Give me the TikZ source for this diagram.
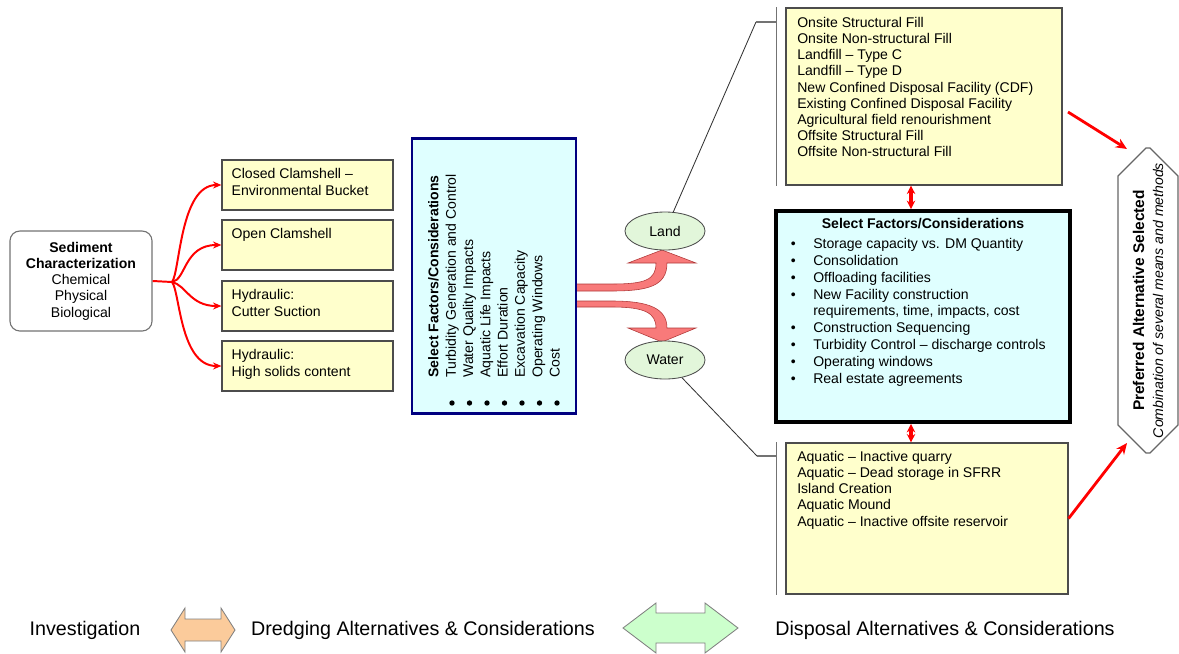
\documentclass[tikz,border=0pt]{standalone}
\usepackage{fontspec}
\setmainfont{Liberation Sans}
\usetikzlibrary{arrows.meta,positioning,shapes.geometric,shapes.misc}

\definecolor{lightyellow}{HTML}{FFFFCC}
\definecolor{lightcyan}{HTML}{DFFFFF}
\definecolor{palegreen}{HTML}{E2F6DA}
\definecolor{salmon}{HTML}{F87A7A}
\definecolor{darksalmon}{HTML}{B03838}
\definecolor{navyblue}{HTML}{000080}
\definecolor{peach}{HTML}{FBCB9B}
\definecolor{mint}{HTML}{CCFFCC}
\newcommand{\pxl}{0.025cm}
\newcommand{\itembul}{\llap{\textbullet\hspace{12.5pt}}}

\begin{document}
\begin{tikzpicture}[x=\pxl,y=-\pxl,>={Stealth[length=6pt,width=5pt]},font=\fontsize{10}{11.5}\selectfont]
\tikzstyle{sedbox}=[draw=black!55,line width=0.8pt,rounded corners=7pt,fill=white,align=center,minimum width=142*\pxl,minimum height=100*\pxl,font=\fontsize{10}{11.6}\selectfont]
\tikzstyle{ybox}=[draw=black!70,line width=0.8pt,fill=lightyellow,inner sep=0]
\tikzstyle{ytext}=[anchor=north west,align=left,inner sep=0]
\tikzstyle{oval}=[ellipse,draw=black!70,line width=0.6pt,fill=palegreen,minimum width=80*\pxl,minimum height=38*\pxl,inner sep=0]
\tikzstyle{redline}=[draw=red,line width=1.4pt]
\tikzstyle{redarrow}=[->,draw=red,line width=1.4pt]
\tikzstyle{bigredarrow}=[-{Stealth[length=8pt,width=7pt]},draw=red,line width=2pt]
\tikzstyle{fatarrow}=[fill=salmon,draw=darksalmon,line width=0.4pt]
\tikzstyle{lead}=[draw=black!80,line width=0.6pt]
\tikzstyle{bracket}=[draw=black!55,line width=1.2pt]
\tikzstyle{dblarrow}=[{Stealth[length=6pt,width=6pt]}-{Stealth[length=6pt,width=6pt]},draw=red,line width=2.4pt]
\tikzstyle{legarrow}=[draw=black!50,line width=0.6pt]
\tikzstyle{legtext}=[font=\fontsize{14}{16}\selectfont]

\useasboundingbox (0,0) rectangle (1179,653);

% investigation
\node[sedbox] (S) at (81,281) {\textbf{Sediment}\\\textbf{Characterization}\\Chemical\\Physical\\Biological};
\coordinate (F) at (172,282);

% dredging alternatives
\node[ybox,minimum width=171*\pxl,minimum height=50*\pxl] (D1) at (307.5,185) {};
\node[ybox,minimum width=171*\pxl,minimum height=50*\pxl] (D2) at (307.5,245) {};
\node[ybox,minimum width=171*\pxl,minimum height=50*\pxl] (D3) at (307.5,306) {};
\node[ybox,minimum width=171*\pxl,minimum height=50*\pxl] (D4) at (307.5,366) {};
\node[ytext] (D1t) at ([xshift=10*\pxl,yshift=-9*\pxl]D1.north west) {Closed Clamshell --\\Environmental Bucket};
\node[ytext] (D2t) at ([xshift=10*\pxl,yshift=-9*\pxl]D2.north west) {Open Clamshell};
\node[ytext] (D3t) at ([xshift=10*\pxl,yshift=-9*\pxl]D3.north west) {Hydraulic:\\Cutter Suction};
\node[ytext] (D4t) at ([xshift=10*\pxl,yshift=-9*\pxl]D4.north west) {Hydraulic:\\High solids content};

\draw[redline] (S.east) -- (F);
\draw[redarrow] (F) .. controls (180,272) and (180,185) .. (D1.west);
\draw[redarrow] (F) .. controls (186,280) and (184,245) .. (D2.west);
\draw[redarrow] (F) .. controls (186,285) and (190,306) .. (D3.west);
\draw[redarrow] (F) .. controls (180,292) and (180,366) .. (D4.west);

% split to land / water
\draw[fatarrow] (576,284) -- (612,284) .. controls (645,284) and (656,280) .. (656,263) -- (628,263) -- (662,250) -- (696,263) -- (667,263) .. controls (667,286) and (648,291) .. (612,291) -- (576,291) -- cycle;
\draw[fatarrow] (576,301) -- (612,301) .. controls (648,301) and (667,308) .. (667,328) -- (696,328) -- (662,342) -- (628,328) -- (656,328) .. controls (656,313) and (645,307) .. (612,307) -- (576,307) -- cycle;

\node[draw=navyblue,line width=2pt,fill=lightcyan,minimum width=164*\pxl,minimum height=275*\pxl] (B) at (494,276) {};
\node[rotate=90,anchor=north west,align=left,inner sep=0,font=\fontsize{10}{12.3}\selectfont] (Bt) at (428,378) {\textbf{Select Factors/Considerations}\\Turbidity Generation and Control\\Water Quality Impacts\\Aquatic Life Impacts\\Effort Duration\\Excavation Capacity\\Operating Windows\\Cost};
\foreach \i in {0,...,6}
  \fill ({452+17.5*\i},403) circle[radius=1.9pt];

\node[oval] (L) at (665,231) {Land};
\node[oval] (W) at (665,360) {Water};

% disposal alternatives
\node[ybox,minimum width=276*\pxl,minimum height=177*\pxl] (TB) at (924,96.5) {};
\node[ytext] (TBt) at (797,17) {Onsite Structural Fill\\Onsite Non-structural Fill\\Landfill -- Type C\\Landfill -- Type D\\New Confined Disposal Facility (CDF)\\Existing Confined Disposal Facility\\Agricultural field renourishment\\Offsite Structural Fill\\Offsite Non-structural Fill};

\node[draw=black,line width=2.8pt,fill=lightcyan,minimum width=294*\pxl,minimum height=211*\pxl] (M) at (923,316.5) {};
\node[anchor=north,inner sep=0,font=\bfseries] (Mt) at ([yshift=-9*\pxl]M.north) {Select Factors/Considerations};
\node[ytext,font=\fontsize{10}{12}\selectfont] (Ml) at (813,238) {\itembul Storage capacity vs. DM Quantity\\\itembul Consolidation\\\itembul Offloading facilities\\\itembul New Facility construction\\requirements, time, impacts, cost\\\itembul Construction Sequencing\\\itembul Turbidity Control -- discharge controls\\\itembul Operating windows\\\itembul Real estate agreements};

\node[ybox,minimum width=282*\pxl,minimum height=151*\pxl] (BB) at (927,518.5) {};
\node[ytext] (BBt) at (797,451) {Aquatic -- Inactive quarry\\Aquatic -- Dead storage in SFRR\\Island Creation\\Aquatic Mound\\Aquatic -- Inactive offsite reservoir};

\coordinate (LK) at (756,22);
\coordinate (LB) at (777,22);
\coordinate (WK) at (757,456);
\coordinate (WB) at (777,456);
\draw[lead] (L) -- (LK);
\draw[bracket] (LK) -- (LB);
\draw[bracket] ([xshift=-9*\pxl]TB.north west) -- ([xshift=-9*\pxl]TB.south west);
\draw[lead] (W) -- (WK);
\draw[bracket] (WK) -- (WB);
\draw[bracket] ([xshift=-9*\pxl]BB.north west) -- ([xshift=-9*\pxl]BB.south west);

\coordinate (AX) at (911,0);
\draw[dblarrow] (TB.south -| AX) -- (M.north -| AX);
\draw[dblarrow] (M.south -| AX) -- (BB.north -| AX);

% preferred alternative
\node[chamfered rectangle,chamfered rectangle xsep=0.35cm,chamfered rectangle ysep=0.35cm,rotate=90,draw=black!60,line width=0.8pt,fill=white,minimum width=305*\pxl,minimum height=60*\pxl,align=center,inner sep=0,font=\fontsize{10}{13.5}\selectfont] (P) at (1148,300.5) {{\fontsize{11}{13.5}\selectfont\bfseries Preferred Alternative Selected}\\{\itshape Combination of several means and methods}};
\coordinate (T1) at (1068,112);
\coordinate (P1) at (1127,149);
\coordinate (P2) at (1127,443);
\draw[bigredarrow] (T1) -- (P1);
\draw[bigredarrow] (BB.east) -- (P2);

% legend
\node[legtext] (I) at (85,630) {Investigation};
\node[legtext] (DA) at (423,630) {Dredging Alternatives \& Considerations};
\node[legtext] (DP) at (945,630) {Disposal Alternatives \& Considerations};
\draw[legarrow,fill=peach] (171,630) -- (185,608) -- (185,619) -- (221,619) -- (221,608) -- (235,630) -- (221,652) -- (221,641) -- (185,641) -- (185,652) -- cycle;
\draw[legarrow,fill=mint] (623,628) -- (656,603) -- (656,613) -- (705,613) -- (705,603) -- (738,628) -- (705,653) -- (705,643) -- (656,643) -- (656,653) -- cycle;
\end{tikzpicture}
\end{document}
